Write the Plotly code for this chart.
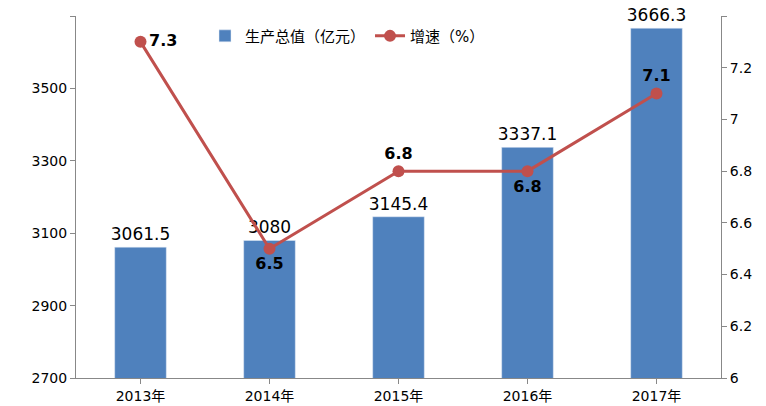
import plotly.graph_objects as go

years = ["2013年", "2014年", "2015年", "2016年", "2017年"]
output = [3061.5, 3080, 3145.4, 3337.1, 3666.3]
growth = [7.3, 6.5, 6.8, 6.8, 7.1]
growth_pos = ["middle right", "bottom center", "top center", "bottom center", "top center"]
left_ticks = [2700, 2900, 3100, 3300, 3500, 3700]
right_ticks = [6, 6.2, 6.4, 6.6, 6.8, 7, 7.2, 7.4]

font = "DejaVu Sans, Noto Sans CJK SC"

fig = go.Figure()
fig.add_trace(go.Bar(x=years, y=output, name="生产总值（亿元）",
                     marker_color="#4F81BD", width=0.4,
                     text=[f"{v:g}" for v in output], textposition="outside",
                     constraintext="none",
                     textfont=dict(size=17, color="black"), cliponaxis=False))
fig.add_trace(go.Scatter(x=years, y=growth, name="增速（%）", yaxis="y2",
                         mode="lines+markers+text",
                         line=dict(color="#C0504D", width=3),
                         marker=dict(size=12, color="#C0504D"),
                         text=[f"<b>{v}</b>" for v in growth], textposition=growth_pos,
                         textfont=dict(size=16, color="black"), cliponaxis=False))

fig.update_layout(
    width=766, height=406,
    margin=dict(l=68, r=53, t=8, b=36),
    plot_bgcolor="white", paper_bgcolor="white",
    font=dict(family=font, size=14, color="black"),
    showlegend=True,
    legend=dict(orientation="h", x=0.2, y=0.99, xanchor="left", yanchor="top",
                font=dict(size=15), bgcolor="rgba(0,0,0,0)"),
    xaxis=dict(showline=True, linecolor="#888", ticks="outside", tickcolor="#888"),
    yaxis=dict(range=[2700, 3700], tickvals=left_ticks, showgrid=False, showline=True,
               linecolor="#888", ticks="outside", tickcolor="#888"),
    yaxis2=dict(range=[6, 7.4], tickvals=right_ticks,
                ticktext=[f"{v:g}" for v in right_ticks],
                overlaying="y", side="right",
                showgrid=False, showline=True, linecolor="#888",
                ticks="outside", tickcolor="#888"),
)

fig.write_html("out.html")
